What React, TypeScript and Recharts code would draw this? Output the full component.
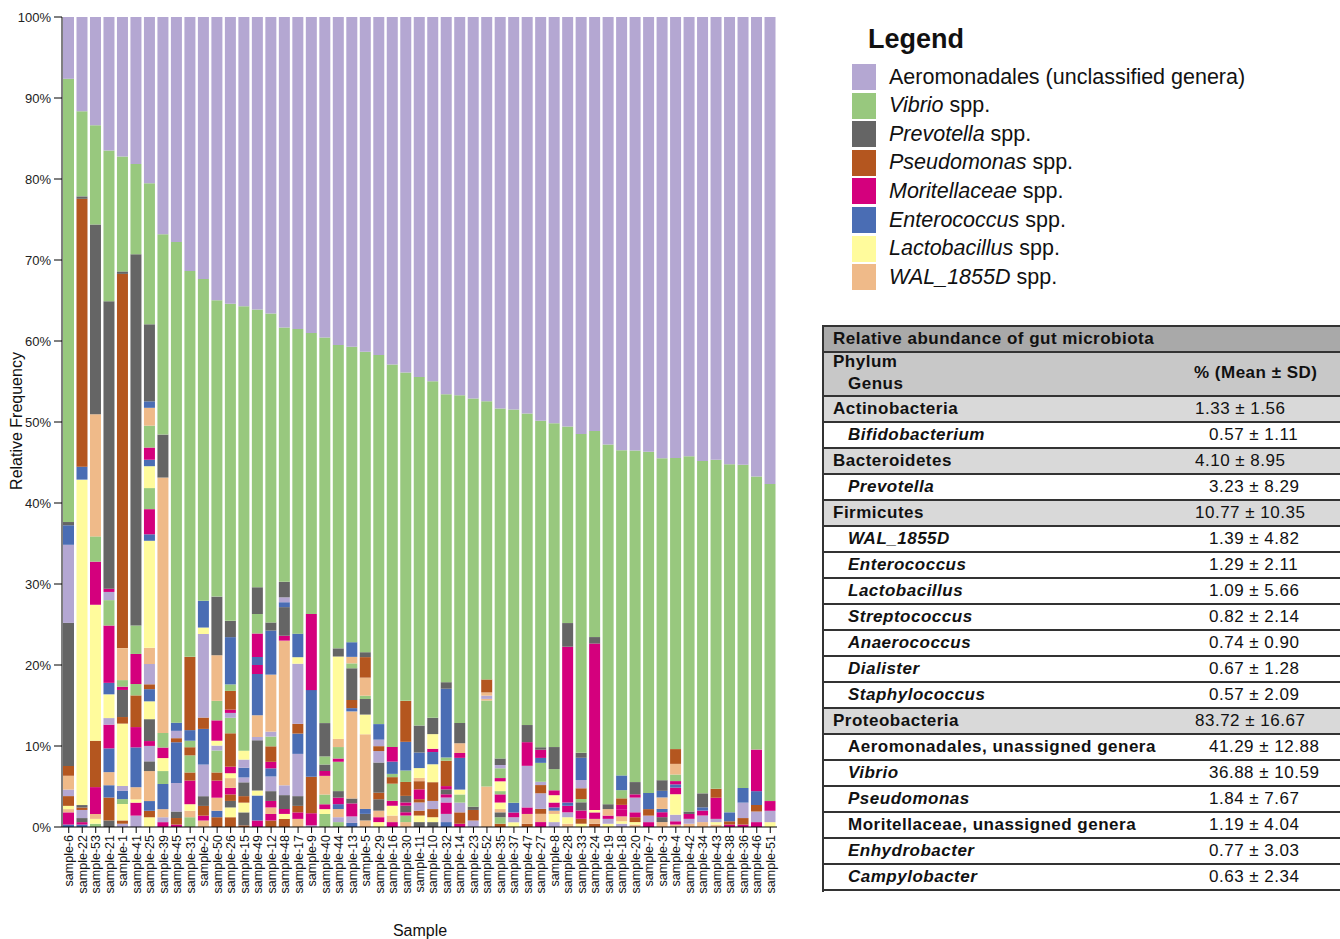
import { BarChart, Bar, XAxis, YAxis } from 'recharts'

const FONT = '"Liberation Sans", Arial, Helvetica, sans-serif'

const samples = [
  'sample-6', 'sample-22', 'sample-53', 'sample-21', 'sample-1', 'sample-41', 'sample-25', 'sample-39',
  'sample-45', 'sample-31', 'sample-2', 'sample-50', 'sample-26', 'sample-15', 'sample-49', 'sample-12',
  'sample-48', 'sample-17', 'sample-9', 'sample-40', 'sample-44', 'sample-13', 'sample-5', 'sample-29',
  'sample-16', 'sample-30', 'sample-11', 'sample-10', 'sample-32', 'sample-14', 'sample-23', 'sample-52',
  'sample-35', 'sample-37', 'sample-47', 'sample-27', 'sample-8', 'sample-28', 'sample-33', 'sample-24',
  'sample-19', 'sample-18', 'sample-20', 'sample-7', 'sample-3', 'sample-4', 'sample-42', 'sample-34',
  'sample-43', 'sample-38', 'sample-36', 'sample-46', 'sample-51',
]

// % per sample, top segment of every bar
const aeromonadales = [
  7.6, 11.6, 13.3, 16.3, 17.0, 18.1, 20.5, 26.8, 27.6, 31.2, 32.3, 34.8, 35.2, 35.6, 36.1, 36.4,
  38.0, 38.4, 39.0, 39.5, 40.2, 40.5, 40.8, 41.4, 42.5, 43.4, 44.0, 44.7, 46.1, 46.5, 47.0, 47.4,
  48.0, 48.3, 48.6, 49.1, 49.8, 50.2, 50.6, 51.0, 52.5, 52.9, 53.1, 53.5, 53.7, 53.8, 53.9, 54.1,
  54.5, 54.9, 55.1, 56.4, 57.6,
]

const vibrio = [
  54.5, 10.5, 12.2, 18.4, 14.0, 11.1, 17.4, 24.7, 59.0, 47.4, 39.7, 36.4, 38.9, 54.7, 34.3, 37.9,
  31.1, 37.5, 34.7, 47.5, 37.2, 36.3, 36.6, 45.2, 46.8, 40.1, 42.6, 41.3, 35.2, 40.3, 50.3, 34.3,
  42.9, 48.4, 38.2, 39.7, 39.7, 24.1, 38.7, 25.4, 44.2, 39.7, 40.6, 42.0, 39.2, 35.5, 43.6, 40.5,
  40.5, 42.7, 39.8, 33.5, 39.1,
]

// remaining taxa below Vibrio, top to bottom: colour code + %
// A lavender, V green, P grey, S brown, M magenta, E blue, Y yellow, W peach
const lowerSegments = [
  'P.4 E2.4 A9.6 P17.6 S1.2 W1.7 A.8 S1.2 Y.4 W.4 M1.5 E.3',
  'P.3 S33 E1.6 Y40.1 P.3 S.3 A1 P.5 M.3 E.3',
  'P23.3 W15 V3.1 M5.3 Y16.7 S5.7 M3.3 W.6 Y.6 V.4',
  'P35.1 M.4 A1 V3.1 M7 E1.4 Y2.9 A.8 M2.9 E2.9 W1.6 E1.5 S2.8 P.8',
  'P.3 S45.6 W3.9 V.8 M.4 P3.3 S.8 Y7.6 A.6 E1 V.6 Y2 S.4 A.4',
  'P45.7 V3.5 M3.7 V1.4 S3.9 M2.5 E4.9 W1.5 Y.4 M1.6 A1.4',
  'P9.5 E.8 W2.2 V2.7 M1.5 E.8 Y2.7 V2.6 M3.1 E.8 Y13.2 W2 A2.5 S.6 E1.5 Y2.2 P2.7 M.6 A1.9 P1.2 W3.7 E1.2 S.8 Y1.2',
  'P5.3 W31.5 V1.8 M1.3 Y1.6 V1.6 E3.1 W1 A.6 M.6',
  'E1 A.9 S.5 E5 A3.5 P.8 S.8 M.3',
  'S9 E1.3 V.8 S1 V2.1 S1 M2.9 Y.8 W.8 V1.2',
  'E3.3 Y.8 A10.3 S1.4 E4.4 A3.9 P1.2 S1.2 M.6 W.8',
  'P7.2 W5.6 V2.4 M2.5 Y.6 A.6 V2.7 S1 M2.1 W1.6 E.8 S1.2',
  'P2 E5.8 V.8 S2.3 M.4 A.6 V1.9 S4.1 M.8 Y.6 W1.2 M.8 S.8 P.8 Y1.2 S1.2',
  'Y1.1 A1 E1.2 A.6 P1.7 S.8 Y1.2 P1.6 S.2',
  'P3.3 V2.4 M2.9 E1 M1.1 E5.1 W2.7 A.4 P6.2 Y.6 E3.1 M.8',
  'P1 E5.4 W7 A.6 V1.2 S1.9 M.8 E1 A1.8 P1.2 M.8 W.8 M.8 S.8',
  'P1.9 A.6 E.6 P3.5 M.6 W17.7 A1.2 P1.7 M.6 Y.6 S1',
  'E2.9 Y.8 A7.4 S1.2 E2.5 A5.2 P1.2 S.8 M.8 W1',
  'M9.4 E10.7 S4.5 M1.5 A.2',
  'P4.1 V1 P.8 M.6 W2.3 V1.2 M.6 Y.6 V1.6',
  'P1 Y10.1 W1 V1.4 M.4 V3.6 P.8 M.8 E.6 W1 A.6 V.6',
  'E1.8 W.8 V.6 P3.9 S1 E.4 W10.7 P.6 M1.6 A.8 E.5',
  'P.6 S2.5 W2.2 V.4 P1.9 Y2.4 W9.1 E.6 P.8 W.8',
  'E1.9 A.8 S.6 A1.4 P3.7 S.8 P1.4 W.8 M.6 Y.6',
  'M1.8 E1.5 V.4 S.8 V2.1 M.6 Y1.2 W.8 M.6',
  'S5 E3.5 V1.4 S1.7 P.8 M.4 P.8 M.4 V.8 W.6',
  'P3.3 E1.9 Y1.2 W.4 S1 M1.2 S.4 A1 S.6 Y.8 P.6',
  'P2 Y1.8 M.4 E1.5 Y2.2 S2.3 A1 S1 Y.6 P.6',
  'P.8 E8.4 V.4 S3.1 M.4 P.6 M.4 A.6 M1.4 A1 E.6',
  'P2.5 W1.2 M.6 E3.9 Y.6 V1 A1.2 S1.4 M.4',
  'P.4 S1.3 A.8',
  'S1.6 W.4 A.4 W.2 V10.6 W5',
  'P.8 A.4 V1.2 M.4 Y1.2 V.4 M1 Y.8 W.4 P.6 V.8 S.4',
  'E1.2 M.6 A.6 Y.6',
  'P2.1 M2.9 A5.1 M.8 W1.2 S.4',
  'P.3 M1 E.6 V2.3 A.4 S1 A1.9 S.6 W1 M.6',
  'P2.7 V2.6 M.6 Y.9 M.6 E.4 W.4 Y1 A.6',
  'P2.9 M19.1 E.4 M.8 A.6 Y.8 W.4',
  'P.6 E2.7 A1 S1.3 V.4 P1 M1 S.6 Y.4',
  'P.8 M20.5 Y.3 M.8 W.6 S.4',
  'P.6 W.8 M.4 A.6 Y.4',
  'E1.8 V1 S.8 M.6 M.8 W.6 Y.3 A.4',
  'P1.5 M.4 A1.8 M.6 S.6 Y.3 W.3',
  'E2 S.8 A.8 M.6',
  'P1.3 E.8 W1.4 E.4 M.6 P.6 W.6',
  'S1.8 W1.3 V.8 M.4 E.4 M.8 Y2.5 A.8 M.4 W.3',
  'P.3 M.6 A.6 W.4',
  'P1.7 E.4 M.6 A.8 W.6',
  'S1.1 M2.6 A.4 Y.3 W.3',
  'E1.1 S.4 M.3',
  'E1.8 A1.9 S.8 M.3',
  'M5.1 E1.7 S.8 A1.3 M.6',
  'M1.2 A1.4 Y.6',
]

const palette = ['#b4a7d2', '#98c87e', '#656565', '#b4561f', '#d4007d', '#4a6db4', '#fffb9c', '#efba89']
const codes = 'AVPSMEYW'

const legendItems = [
  { italic: '', plain: 'Aeromonadales (unclassified genera)' },
  { italic: 'Vibrio', plain: ' spp.' },
  { italic: 'Prevotella', plain: ' spp.' },
  { italic: 'Pseudomonas', plain: ' spp.' },
  { italic: 'Moritellaceae', plain: ' spp.' },
  { italic: 'Enterococcus', plain: ' spp.' },
  { italic: 'Lactobacillus', plain: ' spp.' },
  { italic: 'WAL_1855D', plain: ' spp.' },
]

const yTicks = [0, 0.1, 0.2, 0.3, 0.4, 0.5, 0.6, 0.7, 0.8, 0.9, 1]

// label, value, kind
const abundance: [string, string, 'phylum' | 'genus' | 'group'][] = [
  ['Actinobacteria', '1.33 ± 1.56', 'phylum'],
  ['Bifidobacterium', '0.57 ± 1.11', 'genus'],
  ['Bacteroidetes', '4.10 ± 8.95', 'phylum'],
  ['Prevotella', '3.23 ± 8.29', 'genus'],
  ['Firmicutes', '10.77 ± 10.35', 'phylum'],
  ['WAL_1855D', '1.39 ± 4.82', 'genus'],
  ['Enterococcus', '1.29 ± 2.11', 'genus'],
  ['Lactobacillus', '1.09 ± 5.66', 'genus'],
  ['Streptococcus', '0.82 ± 2.14', 'genus'],
  ['Anaerococcus', '0.74 ± 0.90', 'genus'],
  ['Dialister', '0.67 ± 1.28', 'genus'],
  ['Staphylococcus', '0.57 ± 2.09', 'genus'],
  ['Proteobacteria', '83.72 ± 16.67', 'phylum'],
  ['Aeromonadales, unassigned genera', '41.29 ± 12.88', 'group'],
  ['Vibrio', '36.88 ± 10.59', 'genus'],
  ['Pseudomonas', '1.84 ± 7.67', 'genus'],
  ['Moritellaceae, unassigned genera', '1.19 ± 4.04', 'group'],
  ['Enhydrobacter', '0.77 ± 3.03', 'genus'],
  ['Campylobacter', '0.63 ± 2.34', 'genus'],
]

type Row = Record<string, string | number>

// each taxon keeps its slot in the fixed stack order, colours cycle through the palette
let slotCount = 2
const rows: Row[] = samples.map((name, i) => {
  const row: Row = { name, s0: aeromonadales[i], s1: vibrio[i] }
  let slot = 2
  for (const token of lowerSegments[i].split(' ')) {
    const colour = codes.indexOf(token[0])
    while (slot % 8 !== colour) slot++
    row[`s${slot}`] = Number(token.slice(1))
    slot++
  }
  slotCount = Math.max(slotCount, slot)
  return row
})
rows.forEach(r => {
  for (let k = 0; k < slotCount; k++) if (r[`s${k}`] === undefined) r[`s${k}`] = 0
})
// first Bar is drawn at the bottom of the stack
const slotKeys = Array.from({ length: slotCount }, (_, k) => slotCount - 1 - k)

const SampleTick = ({ x, y, payload }: any) => (
  <text
    x={x}
    y={y}
    transform={`rotate(-90, ${x}, ${y})`}
    textAnchor="end"
    dy={4.5}
    fontSize={12.5}
    fill="#111"
    fontFamily={FONT}
  >
    {payload.value}
  </text>
)

const rowTop = (k: number) => 70 + k * 26
const cell = { fontSize: 17, letterSpacing: 0.5 }

export default function App() {
  return (
    <div style={{ position: 'absolute', left: 0, top: 0, width: 1340, height: 939, overflow: 'hidden', background: '#fff', fontFamily: FONT }}>
      <div style={{ position: 'absolute', left: 0, top: 0 }}>
        <BarChart
          width={790}
          height={939}
          data={rows}
          stackOffset="expand"
          barCategoryGap={1}
          margin={{ top: 17, right: 13, left: 0, bottom: 0 }}
          style={{ fontFamily: FONT }}
        >
          <XAxis
            dataKey="name"
            interval={0}
            height={112}
            tickSize={6}
            tickMargin={2}
            tick={SampleTick}
            axisLine={{ stroke: '#000' }}
            tickLine={{ stroke: '#000' }}
          />
          <YAxis
            type="number"
            domain={[0, 1]}
            ticks={yTicks}
            width={62}
            tickSize={8}
            tickMargin={3}
            tickFormatter={(v: number) => `${Math.round(v * 100)}%`}
            tick={{ fontSize: 13, fill: '#222' }}
            axisLine={{ stroke: '#000' }}
            tickLine={{ stroke: '#000' }}
          />
          {slotKeys.map(k => (
            <Bar key={k} dataKey={`s${k}`} stackId="a" fill={palette[k % 8]} isAnimationActive={false} />
          ))}
        </BarChart>
      </div>

      <svg width={790} height={939} style={{ position: 'absolute', left: 0, top: 0, pointerEvents: 'none' }}>
        <text x={22} y={421} transform="rotate(-90, 22, 421)" textAnchor="middle" fontSize={16} fill="#111" fontFamily={FONT}>
          Relative Frequency
        </text>
        <text x={420} y={936} textAnchor="middle" fontSize={16} fill="#111" fontFamily={FONT}>
          Sample
        </text>
      </svg>

      <div style={{ position: 'absolute', left: 868, top: 23, fontSize: 27, fontWeight: 700, lineHeight: '32px', color: '#111' }}>
        Legend
      </div>
      {legendItems.map((item, k) => (
        <div key={k} style={{ position: 'absolute', left: 852, top: 64 + k * 28.6, height: 26, display: 'flex', alignItems: 'center' }}>
          <div style={{ width: 24, height: 26, background: palette[k] }} />
          <div style={{ marginLeft: 13, fontSize: 21.5, color: '#111', whiteSpace: 'nowrap' }}>
            {item.italic && <i>{item.italic}</i>}
            {item.plain}
          </div>
        </div>
      ))}

      <div style={{ position: 'absolute', left: 822, top: 325, width: 540, height: 565, borderLeft: '2px solid #333', borderTop: '2px solid #333', color: '#111', ...cell }}>
        <div style={{ position: 'absolute', left: 0, top: 0, width: '100%', height: 24, background: '#a9a9a9', borderBottom: '2px solid #333' }}>
          <span style={{ position: 'absolute', left: 9, top: 2, fontWeight: 700 }}>Relative abundance of gut microbiota</span>
        </div>
        <div style={{ position: 'absolute', left: 0, top: 26, width: '100%', height: 42, background: '#c8c8c8', borderBottom: '2px solid #333' }}>
          <span style={{ position: 'absolute', left: 9, top: -1, fontWeight: 700 }}>Phylum</span>
          <span style={{ position: 'absolute', left: 24, top: 21, fontWeight: 700 }}>Genus</span>
          <span style={{ position: 'absolute', left: 370, top: 10, fontWeight: 700 }}>% (Mean ± SD)</span>
        </div>
        {abundance.map(([label, value, kind], k) => (
          <div
            key={label}
            style={{
              position: 'absolute',
              left: 0,
              top: rowTop(k),
              width: '100%',
              height: 24,
              background: kind === 'phylum' ? '#d9d9d9' : '#fff',
              borderBottom: '2px solid #333',
            }}
          >
            <span
              style={{
                position: 'absolute',
                left: kind === 'phylum' ? 9 : 24,
                top: 2,
                fontWeight: 700,
                fontStyle: kind === 'genus' ? 'italic' : 'normal',
                whiteSpace: 'nowrap',
              }}
            >
              {label}
            </span>
            <span style={{ position: 'absolute', left: kind === 'phylum' ? 371 : 385, top: 2, whiteSpace: 'nowrap' }}>{value}</span>
          </div>
        ))}
      </div>
    </div>
  )
}
